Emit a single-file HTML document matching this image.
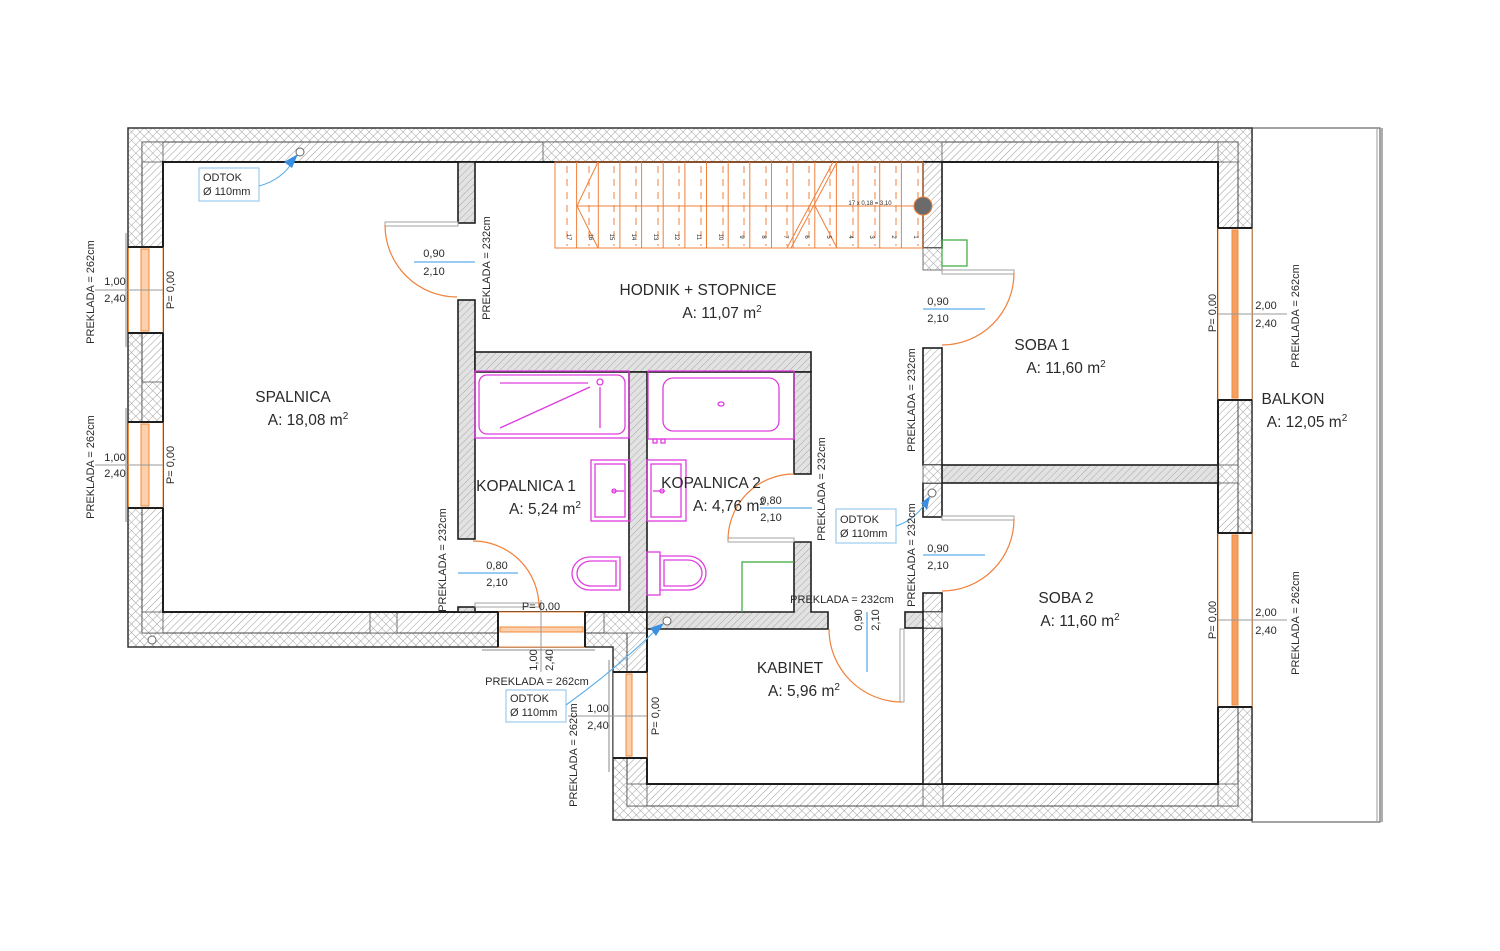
<!DOCTYPE html>
<html><head><meta charset="utf-8">
<style>
html,body{margin:0;padding:0;background:#fff;}
svg{display:block;}
text{font-family:"Liberation Sans",Arial,sans-serif;fill:#2a2a2a;}
.s{font-size:11px;}
.r{font-size:15.5px;}
.t{font-size:6px;fill:#e87a2a;}
</style></head><body>
<svg width="1500" height="951" viewBox="0 0 1500 951" xmlns="http://www.w3.org/2000/svg">
<defs>
<pattern id="dg" width="5" height="5" patternUnits="userSpaceOnUse" patternTransform="rotate(45)">
<rect width="5" height="5" fill="#fff"/><line x1="0" y1="0" x2="0" y2="5" stroke="#9a9a9a" stroke-width="1"/></pattern>
<pattern id="gg" width="5" height="5" patternUnits="userSpaceOnUse" patternTransform="rotate(45)">
<rect width="5" height="5" fill="#e2e2e2"/><line x1="0" y1="0" x2="0" y2="5" stroke="#a8a8a8" stroke-width="1"/></pattern>
<pattern id="cx" width="6" height="6" patternUnits="userSpaceOnUse" patternTransform="rotate(45)">
<rect width="6" height="6" fill="#fff"/><line x1="0" y1="0" x2="0" y2="6" stroke="#999" stroke-width="0.9"/><line x1="0" y1="0" x2="6" y2="0" stroke="#999" stroke-width="0.9"/></pattern>
</defs>

<!-- balcony -->
<rect x="1252" y="128" width="128" height="694" fill="#fff" stroke="#666" stroke-width="1.2"/>
<line x1="1377" y1="128" x2="1377" y2="822" stroke="#999" stroke-width="1"/>
<line x1="1382" y1="128" x2="1382" y2="822" stroke="#777" stroke-width="1.2"/>

<!-- outer insulation -->
<path d="M128,128 H1252 V820 H613 V647 H128 Z" fill="url(#cx)" stroke="#333" stroke-width="1.5"/>
<!-- structural layer -->
<path d="M142,142 H1238 V806 H627 V633 H142 Z" fill="url(#dg)" stroke="#444" stroke-width="1"/>
<!-- crosshatch blocks in structure -->
<g fill="url(#cx)" stroke="#555" stroke-width="0.8">
<rect x="543" y="142" width="399" height="20"/>
<rect x="142" y="142" width="21" height="20"/>
<rect x="1218" y="142" width="20" height="20"/>
<rect x="142" y="612" width="21" height="21"/>
<rect x="370" y="612" width="27" height="21"/>
<rect x="142" y="382" width="21" height="40"/>
<rect x="1218" y="465" width="20" height="18"/>
<rect x="1218" y="784" width="20" height="22"/>
<rect x="923" y="784" width="20" height="22"/>
<rect x="627" y="784" width="20" height="22"/>
<rect x="604" y="612" width="43" height="21"/>
</g>

<!-- free interior space -->
<path d="M163,162 H1218 V784 H647 V612 H163 Z" fill="#fff" stroke="#1e1e1e" stroke-width="2"/>

<!-- white hatched partitions -->
<g fill="url(#dg)" stroke="#1e1e1e" stroke-width="1.6">
<rect x="923" y="162" width="19" height="86"/>
<rect x="923" y="348" width="19" height="117"/>
<rect x="923" y="483" width="19" height="34"/>
<rect x="923" y="593" width="19" height="19"/>
<rect x="923" y="628" width="19" height="156"/>
</g>
<g fill="url(#cx)" stroke="#555" stroke-width="0.8">
<rect x="923" y="248" width="19" height="22"/>
<rect x="923" y="465" width="19" height="18"/>
<rect x="923" y="612" width="19" height="16"/>
</g>

<!-- gray partitions -->
<g fill="url(#gg)" stroke="#1e1e1e" stroke-width="1.6">
<rect x="458" y="162" width="17" height="61"/>
<rect x="458" y="300" width="17" height="239"/>
<rect x="458" y="607" width="17" height="5"/>
<rect x="475" y="352" width="336" height="20"/>
<rect x="794" y="372" width="17" height="102"/>
<rect x="629" y="372" width="18" height="240"/>
<path d="M794,542 H811 V612 H828 V629 H647 V612 H794 Z"/>
<rect x="942" y="465" width="276" height="18"/>
<rect x="905" y="612" width="18" height="16"/>
</g>

<!-- windows left -->
<g>
<rect x="128.5" y="247" width="34" height="86" fill="#fff"/>
<line x1="128.5" y1="247" x2="128.5" y2="333" stroke="#f08a3c"/>
<line x1="163" y1="247" x2="163" y2="333" stroke="#f08a3c"/>
<rect x="141" y="249" width="8" height="82" fill="#fbd0aa" stroke="#f08a3c"/>
<line x1="128" y1="247" x2="163" y2="247" stroke="#1e1e1e" stroke-width="2"/>
<line x1="128" y1="333" x2="163" y2="333" stroke="#1e1e1e" stroke-width="2"/>
<line x1="126" y1="233" x2="126" y2="347" stroke="#888"/>
<line x1="95" y1="290" x2="163" y2="290" stroke="#999"/>

<rect x="128.5" y="422" width="34" height="86" fill="#fff"/>
<line x1="128.5" y1="422" x2="128.5" y2="508" stroke="#f08a3c"/>
<line x1="163" y1="422" x2="163" y2="508" stroke="#f08a3c"/>
<rect x="141" y="424" width="8" height="82" fill="#fbd0aa" stroke="#f08a3c"/>
<line x1="128" y1="422" x2="163" y2="422" stroke="#1e1e1e" stroke-width="2"/>
<line x1="128" y1="508" x2="163" y2="508" stroke="#1e1e1e" stroke-width="2"/>
<line x1="126" y1="408" x2="126" y2="522" stroke="#888"/>
<line x1="95" y1="465" x2="163" y2="465" stroke="#999"/>
</g>
<!-- windows right -->
<g>
<rect x="1218" y="228" width="34" height="172" fill="#fff"/>
<line x1="1218" y1="228" x2="1218" y2="400" stroke="#f08a3c"/>
<line x1="1252" y1="228" x2="1252" y2="400" stroke="#f08a3c"/>
<rect x="1232" y="230" width="6" height="168" fill="#f5a060" stroke="#f08a3c"/>
<line x1="1218" y1="228" x2="1252" y2="228" stroke="#1e1e1e" stroke-width="2"/>
<line x1="1218" y1="400" x2="1252" y2="400" stroke="#1e1e1e" stroke-width="2"/>
<line x1="1218" y1="314" x2="1287" y2="314" stroke="#999"/>

<rect x="1218" y="533" width="34" height="174" fill="#fff"/>
<line x1="1218" y1="533" x2="1218" y2="707" stroke="#f08a3c"/>
<line x1="1252" y1="533" x2="1252" y2="707" stroke="#f08a3c"/>
<rect x="1232" y="535" width="6" height="170" fill="#f5a060" stroke="#f08a3c"/>
<line x1="1218" y1="533" x2="1252" y2="533" stroke="#1e1e1e" stroke-width="2"/>
<line x1="1218" y1="707" x2="1252" y2="707" stroke="#1e1e1e" stroke-width="2"/>
<line x1="1218" y1="620" x2="1287" y2="620" stroke="#999"/>
</g>
<!-- bottom window -->
<g>
<rect x="498" y="612" width="87" height="35" fill="#fff"/>
<line x1="498" y1="612" x2="585" y2="612" stroke="#f08a3c"/>
<line x1="498" y1="647" x2="585" y2="647" stroke="#f08a3c"/>
<rect x="500" y="627" width="83" height="5" fill="#fbd0aa" stroke="#f08a3c"/>
<line x1="498" y1="612" x2="498" y2="647" stroke="#1e1e1e" stroke-width="2"/>
<line x1="585" y1="612" x2="585" y2="647" stroke="#1e1e1e" stroke-width="2"/>
<line x1="541" y1="600" x2="541" y2="672" stroke="#999"/>
<line x1="482" y1="650" x2="595" y2="650" stroke="#888"/>
</g>
<!-- kabinet window -->
<g>
<rect x="613.5" y="672" width="33" height="86" fill="#fff"/>
<line x1="613.5" y1="672" x2="613.5" y2="758" stroke="#f08a3c"/>
<line x1="647" y1="672" x2="647" y2="758" stroke="#f08a3c"/>
<rect x="626" y="674" width="6" height="82" fill="#fbd0aa" stroke="#f08a3c"/>
<line x1="613" y1="672" x2="647" y2="672" stroke="#1e1e1e" stroke-width="2"/>
<line x1="613" y1="758" x2="647" y2="758" stroke="#1e1e1e" stroke-width="2"/>
<line x1="609" y1="660" x2="609" y2="772" stroke="#888"/>
<line x1="568" y1="716" x2="647" y2="716" stroke="#999"/>
</g>

<!-- stairs -->
<g stroke="#f0803a" stroke-width="1" fill="none">
<rect x="555" y="162" width="368" height="86"/>
<line x1="576.6" y1="162" x2="576.6" y2="248"/><line x1="598.3" y1="162" x2="598.3" y2="248"/>
<line x1="619.9" y1="162" x2="619.9" y2="248"/><line x1="641.6" y1="162" x2="641.6" y2="248"/>
<line x1="663.2" y1="162" x2="663.2" y2="248"/><line x1="684.9" y1="162" x2="684.9" y2="248"/>
<line x1="706.5" y1="162" x2="706.5" y2="248"/><line x1="728.2" y1="162" x2="728.2" y2="248"/>
<line x1="749.8" y1="162" x2="749.8" y2="248"/><line x1="771.5" y1="162" x2="771.5" y2="248"/>
<line x1="793.1" y1="162" x2="793.1" y2="248"/><line x1="814.8" y1="162" x2="814.8" y2="248"/>
<line x1="836.4" y1="162" x2="836.4" y2="248"/><line x1="858.1" y1="162" x2="858.1" y2="248"/>
<line x1="879.7" y1="162" x2="879.7" y2="248"/><line x1="901.4" y1="162" x2="901.4" y2="248"/>
<g stroke-dasharray="7,6">
<line x1="567" y1="166" x2="567" y2="246"/><line x1="589" y1="166" x2="589" y2="246"/>
<line x1="614" y1="166" x2="614" y2="246"/><line x1="636" y1="166" x2="636" y2="246"/>
<line x1="658" y1="166" x2="658" y2="246"/><line x1="679" y1="166" x2="679" y2="246"/>
<line x1="701" y1="166" x2="701" y2="246"/><line x1="723" y1="166" x2="723" y2="246"/>
<line x1="744" y1="166" x2="744" y2="246"/><line x1="766" y1="166" x2="766" y2="246"/>
<line x1="787" y1="166" x2="787" y2="246"/><line x1="809" y1="166" x2="809" y2="246"/>
<line x1="830" y1="166" x2="830" y2="246"/><line x1="853" y1="166" x2="853" y2="246"/>
<line x1="875" y1="166" x2="875" y2="246"/><line x1="896" y1="166" x2="896" y2="246"/>
<line x1="918" y1="166" x2="918" y2="246"/>
</g>
<line x1="577" y1="206" x2="915" y2="206"/>
<polyline points="598,162 577,206 598,248"/>
<line x1="837" y1="162" x2="791" y2="248"/>
<line x1="833" y1="162" x2="787" y2="248"/>
<line x1="815" y1="206" x2="837" y2="248"/>
</g>
<g class="t">
<text transform="translate(567,237) rotate(90)" text-anchor="middle">17</text>
<text transform="translate(589,237) rotate(90)" text-anchor="middle">16</text>
<text transform="translate(610,237) rotate(90)" text-anchor="middle">15</text>
<text transform="translate(632,237) rotate(90)" text-anchor="middle">14</text>
<text transform="translate(654,237) rotate(90)" text-anchor="middle">13</text>
<text transform="translate(675,237) rotate(90)" text-anchor="middle">12</text>
<text transform="translate(697,237) rotate(90)" text-anchor="middle">11</text>
<text transform="translate(719,237) rotate(90)" text-anchor="middle">10</text>
<text transform="translate(740,237) rotate(90)" text-anchor="middle">9</text>
<text transform="translate(762,237) rotate(90)" text-anchor="middle">8</text>
<text transform="translate(784,237) rotate(90)" text-anchor="middle">7</text>
<text transform="translate(805,237) rotate(90)" text-anchor="middle">6</text>
<text transform="translate(827,237) rotate(90)" text-anchor="middle">5</text>
<text transform="translate(849,237) rotate(90)" text-anchor="middle">4</text>
<text transform="translate(870,237) rotate(90)" text-anchor="middle">3</text>
<text transform="translate(892,237) rotate(90)" text-anchor="middle">2</text>
<text transform="translate(914,237) rotate(90)" text-anchor="middle">1</text>
<text x="870" y="205" text-anchor="middle">17 x 0,18 = 3,10</text>
</g>
<circle cx="923" cy="206" r="9" fill="#6b6b6b" stroke="#f0803a" stroke-width="1"/>
<rect x="942" y="240" width="25" height="26" fill="none" stroke="#3aa83a" stroke-width="1.2"/>

<!-- bathroom fixtures -->
<g fill="none" stroke="#e03ce0" stroke-width="1.3">
<rect x="475" y="371" width="154" height="67"/>
<rect x="479" y="375" width="146" height="59" rx="8"/>
<line x1="500" y1="383" x2="588" y2="383"/>
<line x1="500" y1="428" x2="590" y2="387"/>
<line x1="600" y1="387" x2="600" y2="428"/>
<circle cx="600" cy="382" r="3"/>
<rect x="648" y="371" width="146" height="68"/>
<rect x="663" y="378" width="116" height="53" rx="10"/>
<ellipse cx="721" cy="404" rx="3" ry="2"/>
<rect x="653" y="439" width="4" height="4"/>
<rect x="661" y="439" width="4" height="4"/>
<rect x="591" y="460" width="39" height="61"/>
<rect x="595" y="464" width="30" height="53"/>
<line x1="612" y1="491" x2="624" y2="491"/>
<circle cx="614" cy="491" r="2"/>
<rect x="647" y="460" width="39" height="61"/>
<rect x="651" y="464" width="30" height="53"/>
<line x1="653" y1="491" x2="665" y2="491"/>
<circle cx="662" cy="491" r="2"/>
<path d="M620,557 H590 A18,16.5 0 0,0 590,590 H620 Z"/>
<path d="M616,561 H591 A14,12.5 0 0,0 591,586 H616 Z"/>
<rect x="647" y="552" width="13" height="43"/>
<path d="M660,556 H688 A18,17 0 0,1 688,590 H660 Z"/>
<path d="M664,560 H688 A14,13 0 0,1 688,586 H664 Z"/>
</g>
<polyline points="794,562 742,562 742,612" fill="none" stroke="#3aa83a" stroke-width="1.2"/>

<!-- doors -->
<g fill="#fff" stroke="#999" stroke-width="0.9">
<rect x="385" y="222" width="73" height="4"/>
<rect x="942" y="270" width="72" height="4"/>
<rect x="942" y="516" width="72" height="4"/>
<rect x="728" y="538" width="66" height="4"/>
<rect x="475" y="603" width="65" height="4"/>
<rect x="900" y="629" width="4" height="73"/>
</g>
<g fill="none" stroke="#f0803a" stroke-width="1.2">
<path d="M385,225 A72,72 0 0,0 457,297"/>
<path d="M1014,273 A72,72 0 0,1 942,345"/>
<path d="M1014,519 A72,72 0 0,1 942,591"/>
<path d="M794,474 A66,66 0 0,0 728,540"/>
<path d="M473,541 A66,66 0 0,1 539,607"/>
<path d="M829,629 A73,73 0 0,0 902,702"/>
</g>

<!-- blue dimension lines -->
<g stroke="#5aaee8" stroke-width="1.3">
<line x1="414" y1="262" x2="475" y2="262"/>
<line x1="923" y1="309" x2="985" y2="309"/>
<line x1="923" y1="555" x2="985" y2="555"/>
<line x1="760" y1="508" x2="812" y2="508"/>
<line x1="458" y1="573" x2="518" y2="573"/>
<line x1="867" y1="612" x2="867" y2="672"/>
</g>

<!-- ODTOK -->
<g fill="#fff" stroke="#9ccaec" stroke-width="1.2">
<rect x="199" y="168" width="60" height="33"/>
<rect x="836" y="509" width="60" height="34"/>
<rect x="506" y="690" width="60" height="32"/>
</g>
<g fill="none" stroke="#5aaee8" stroke-width="1.1">
<path d="M259,186 Q282,180 294,160"/>
<path d="M896,526 Q915,520 926,502"/>
<path d="M566,705 Q615,670 658,628"/>
</g>
<g fill="#3b8fe0">
<polygon points="298,154 284,162 292,168"/>
<polygon points="930,496 921,503 927,510"/>
<polygon points="664,623 650,628 656,636"/>
</g>
<g fill="#fff" stroke="#666" stroke-width="1">
<circle cx="300" cy="152" r="4"/>
<circle cx="932" cy="493" r="4"/>
<circle cx="667" cy="621" r="4"/>
<circle cx="152" cy="640" r="4"/>
</g>
<g class="s">
<text x="203" y="181">ODTOK</text><text x="203" y="195">Ø 110mm</text>
<text x="840" y="523">ODTOK</text><text x="840" y="537">Ø 110mm</text>
<text x="510" y="702">ODTOK</text><text x="510" y="716">Ø 110mm</text>
</g>

<!-- small labels -->
<g class="s" text-anchor="middle">
<text x="115" y="285">1,00</text><text x="115" y="302">2,40</text>
<text x="115" y="461">1,00</text><text x="115" y="477">2,40</text>
<text transform="translate(174,290) rotate(-90)">P= 0,00</text>
<text transform="translate(174,465) rotate(-90)">P= 0,00</text>
<text transform="translate(94,292) rotate(-90)">PREKLADA = 262cm</text>
<text transform="translate(94,467) rotate(-90)">PREKLADA = 262cm</text>
<text x="434" y="257">0,90</text><text x="434" y="275">2,10</text>
<text transform="translate(490,268) rotate(-90)">PREKLADA = 232cm</text>
<text x="938" y="305">0,90</text><text x="938" y="322">2,10</text>
<text transform="translate(915,400) rotate(-90)">PREKLADA = 232cm</text>
<text transform="translate(1216,313) rotate(-90)">P= 0,00</text>
<text x="1266" y="309">2,00</text><text x="1266" y="327">2,40</text>
<text transform="translate(1299,316) rotate(-90)">PREKLADA = 262cm</text>
<text transform="translate(1216,620) rotate(-90)">P= 0,00</text>
<text x="1266" y="616">2,00</text><text x="1266" y="634">2,40</text>
<text transform="translate(1299,623) rotate(-90)">PREKLADA = 262cm</text>
<text x="771" y="504">0,80</text><text x="771" y="521">2,10</text>
<text transform="translate(825,489) rotate(-90)">PREKLADA = 232cm</text>
<text x="938" y="552">0,90</text><text x="938" y="569">2,10</text>
<text transform="translate(915,555) rotate(-90)">PREKLADA = 232cm</text>
<text x="497" y="569">0,80</text><text x="497" y="586">2,10</text>
<text transform="translate(446,560) rotate(-90)">PREKLADA = 232cm</text>
<text x="541" y="610">P= 0,00</text>
<text transform="translate(537,660) rotate(-90)">1,00</text>
<text transform="translate(553,660) rotate(-90)">2,40</text>
<text x="537" y="685">PREKLADA = 262cm</text>
<text x="598" y="712">1,00</text><text x="598" y="729">2,40</text>
<text transform="translate(577,755) rotate(-90)">PREKLADA = 262cm</text>
<text transform="translate(659,716) rotate(-90)">P= 0,00</text>
<text x="842" y="603">PREKLADA = 232cm</text>
<text transform="translate(862,620) rotate(-90)">0,90</text>
<text transform="translate(879,620) rotate(-90)">2,10</text>
</g>

<!-- room labels -->
<g class="r" text-anchor="middle">
<text x="698" y="295">HODNIK + STOPNICE</text>
<text x="722" y="318">A: 11,07 m<tspan font-size="10" dy="-6">2</tspan></text>
<text x="293" y="402">SPALNICA</text>
<text x="308" y="425">A: 18,08 m<tspan font-size="10" dy="-6">2</tspan></text>
<text x="526" y="491">KOPALNICA 1</text>
<text x="545" y="514">A: 5,24 m<tspan font-size="10" dy="-6">2</tspan></text>
<text x="711" y="488">KOPALNICA 2</text>
<text x="729" y="511">A: 4,76 m<tspan font-size="10" dy="-6">2</tspan></text>
<text x="1042" y="350">SOBA 1</text>
<text x="1066" y="373">A: 11,60 m<tspan font-size="10" dy="-6">2</tspan></text>
<text x="1066" y="603">SOBA 2</text>
<text x="1080" y="626">A: 11,60 m<tspan font-size="10" dy="-6">2</tspan></text>
<text x="1293" y="404">BALKON</text>
<text x="1307" y="427">A: 12,05 m<tspan font-size="10" dy="-6">2</tspan></text>
<text x="790" y="673">KABINET</text>
<text x="804" y="696">A: 5,96 m<tspan font-size="10" dy="-6">2</tspan></text>
</g>
</svg>
</body></html>
